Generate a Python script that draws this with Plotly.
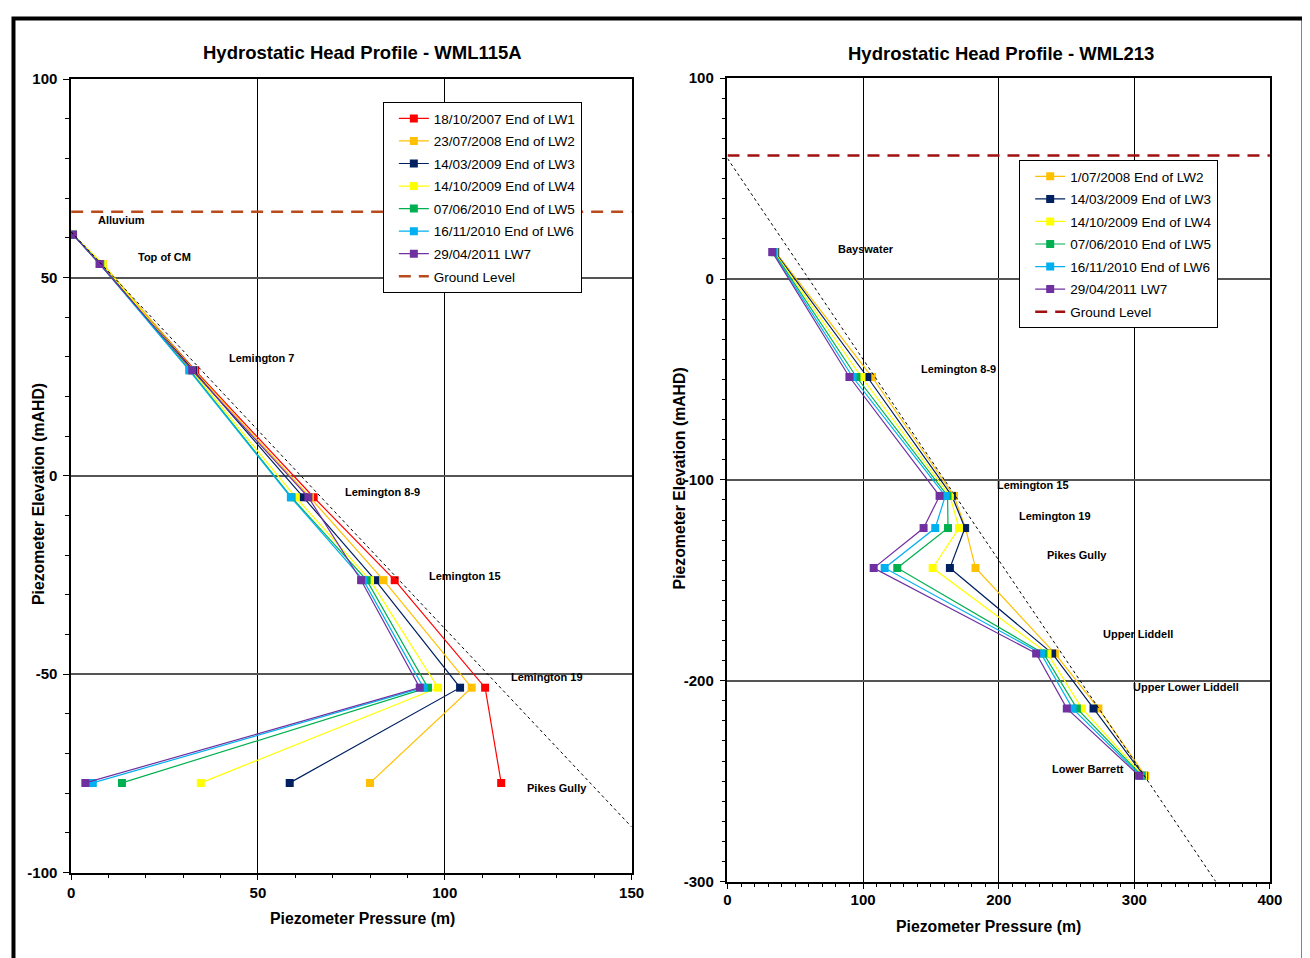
import plotly.graph_objects as go

# ---------------- data: left chart (WML115A) ----------------
left_levels = ["Alluvium", "Top of CM", "Lemington 7", "Lemington 8-9",
               "Lemington 15", "Lemington 19", "Pikes Gully"]
left_elev = [60.8, 53.4, 26.6, -5.4, -26.3, -53.4, -77.4]

left_names = ["18/10/2007 End of LW1", "23/07/2008 End of LW2", "14/03/2009 End of LW3",
              "14/10/2009 End of LW4", "07/06/2010 End of LW5", "16/11/2010 End of LW6",
              "29/04/2011 LW7"]
left_lw1 = [0.5, 8.0, 33.2, 64.9, 86.6, 110.8, 115.1]
left_lw2 = [0.5, 8.5, 32.9, 63.9, 83.6, 107.2, 80.0]
left_lw3 = [0.5, 7.8, 32.7, 62.2, 81.4, 104.1, 58.5]
left_lw4 = [0.5, 8.4, 32.2, 60.1, 80.0, 98.2, 34.7]
left_lw5 = [0.5, 7.8, 31.8, 59.0, 79.1, 95.5, 13.6]
left_lw6 = [0.5, 7.7, 31.6, 58.8, 78.2, 94.3, 5.8]
left_lw7 = [0.5, 7.6, 32.4, 63.5, 77.6, 93.3, 3.8]
left_ground = 66.6
left_hydro_x = [0, 150]
left_hydro_y = [61.5, -88.5]

left_label_x = [13.6, 24.9, 51.0, 83.2, 105.3, 127.3, 130.0]
left_label_y = [64.5, 55.2, 29.7, -4.0, -25.2, -50.6, -78.8]

left_xticks = [0, 50, 100, 150]
left_xticktext = ["0", "50", "100", "150"]
left_yticks = [-100, -50, 0, 50, 100]
left_yticktext = ["-100", "-50", "0", "50", "100"]

# ---------------- data: right chart (WML213) ----------------
right_levels = ["Bayswater", "Lemington 8-9", "Lemington 15", "Lemington 19",
                "Pikes Gully", "Upper Liddell", "Upper Lower Liddell", "Lower Barrett"]
right_elev = [13.4, -48.8, -108.0, -124.0, -143.9, -186.4, -213.8, -247.3]

right_names = ["1/07/2008 End of LW2", "14/03/2009 End of LW3", "14/10/2009 End of LW4",
               "07/06/2010 End of LW5", "16/11/2010 End of LW6", "29/04/2011 LW7"]
right_lw2 = [35.5, 106.6, 167.0, 175.5, 182.9, 241.4, 273.5, 308.0]
right_lw3 = [35.0, 103.1, 165.5, 175.1, 164.0, 239.4, 269.9, 307.0]
right_lw4 = [34.5, 98.8, 164.0, 170.7, 151.3, 236.0, 261.3, 306.5]
right_lw5 = [34.0, 95.1, 162.3, 162.6, 125.2, 233.0, 257.6, 305.5]
right_lw6 = [33.5, 92.3, 160.6, 153.2, 115.9, 231.1, 254.4, 304.5]
right_lw7 = [33.0, 89.9, 156.4, 144.6, 107.8, 227.6, 250.2, 303.5]
right_ground = 61.5
right_hydro_x = [0, 360]
right_hydro_y = [60, -300]

right_label_x = [102.4, 170.2, 225.4, 241.6, 257.8, 302.8, 338.0, 266.0]
right_label_y = [14.9, -44.8, -102.5, -117.9, -137.3, -176.6, -203.0, -243.8]

right_xticks = [0, 100, 200, 300, 400]
right_xticktext = ["0", "100", "200", "300", "400"]
right_yticks = [-300, -200, -100, 0, 100]
right_yticktext = ["-300", "-200", "-100", "0", "100"]

left_colors = ["#FF0000", "#FFC000", "#002060", "#FFFF00", "#00B050", "#00B0F0", "#7030A0"]
right_colors = ["#FFC000", "#002060", "#FFFF00", "#00B050", "#00B0F0", "#7030A0"]

FONT = "Liberation Sans"

# page geometry (figure sits inside the page body; map target screen px to paper fractions)
W, H = 1310, 958
AX, BX = 0.988, 10.8
AY, BY = 0.983, 15.8


def fx(px):
    return ((px - BX) / AX) / W


def fy(py):
    return 1 - ((py - BY) / AY) / H


fig = go.Figure()

for i, (name, xs, col) in enumerate(zip(left_names,
                                         [left_lw1, left_lw2, left_lw3, left_lw4, left_lw5, left_lw6, left_lw7],
                                         left_colors)):
    fig.add_trace(go.Scatter(x=xs, y=left_elev, mode="lines+markers", name=name,
                             line=dict(color=col, width=1.2),
                             marker=dict(symbol="square", size=8, color=col),
                             xaxis="x", yaxis="y", legend="legend", legendgroup="L%d" % i))
fig.add_trace(go.Scatter(x=left_hydro_x, y=left_hydro_y, mode="lines", showlegend=False,
                         line=dict(color="black", width=1, dash="dot"), xaxis="x", yaxis="y"))
fig.add_trace(go.Scatter(x=[0, 150], y=[left_ground, left_ground], mode="lines", name="Ground Level",
                         line=dict(color="#B84A1B", width=2.5, dash="12px,8px"),
                         xaxis="x", yaxis="y", legend="legend", legendgroup="Lg"))

for i, (name, xs, col) in enumerate(zip(right_names,
                                         [right_lw2, right_lw3, right_lw4, right_lw5, right_lw6, right_lw7],
                                         right_colors)):
    fig.add_trace(go.Scatter(x=xs, y=right_elev, mode="lines+markers", name=name,
                             line=dict(color=col, width=1.2),
                             marker=dict(symbol="square", size=8, color=col),
                             xaxis="x2", yaxis="y2", legend="legend2", legendgroup="R%d" % i))
fig.add_trace(go.Scatter(x=right_hydro_x, y=right_hydro_y, mode="lines", showlegend=False,
                         line=dict(color="black", width=1, dash="dot"), xaxis="x2", yaxis="y2"))
fig.add_trace(go.Scatter(x=[0, 400], y=[right_ground, right_ground], mode="lines", name="Ground Level",
                         line=dict(color="#A01010", width=2.5, dash="12px,8px"),
                         xaxis="x2", yaxis="y2", legend="legend2", legendgroup="Rg"))

tickfont = dict(family=FONT, size=15, color="black", weight="bold")


def axis(domain, rng, tickvals, ticktext, minor, anchor, gridcolor="black", gridwidth=1, standoff=3):
    return dict(domain=domain, range=rng, tickmode="array", tickvals=tickvals, ticktext=ticktext,
                anchor=anchor, showgrid=True, gridcolor=gridcolor, gridwidth=gridwidth,
                showline=True, linecolor="black", linewidth=1.5, mirror=True,
                ticks="outside", ticklen=6, tickcolor="black", tickwidth=1,
                minor=dict(dtick=minor, tick0=0, ticks="outside", ticklen=4, tickcolor="black", showgrid=False),
                zeroline=False, tickfont=tickfont, ticklabelstandoff=standoff)


annotations = []
labfont = dict(family=FONT, size=11, color="black", weight="bold")
for t, x, y in zip(left_levels, left_label_x, left_label_y):
    annotations.append(dict(text=t, x=x, y=y, xref="x", yref="y", showarrow=False,
                            xanchor="center", yanchor="middle", font=labfont))
for t, x, y in zip(right_levels, right_label_x, right_label_y):
    annotations.append(dict(text=t, x=x, y=y, xref="x2", yref="y2", showarrow=False,
                            xanchor="center", yanchor="middle", font=labfont))

titlefont = dict(family=FONT, size=18.5, color="black", weight="bold")
axtitlefont = dict(family=FONT, size=15.8, color="black", weight="bold")


def pann(text, px, py, font, angle=0):
    return dict(text=text, x=fx(px), y=fy(py), xref="paper", yref="paper", showarrow=False,
                xanchor="center", yanchor="middle", textangle=angle, font=font)


annotations += [
    pann("Hydrostatic Head Profile - WML115A", 362, 51, titlefont),
    pann("Hydrostatic Head Profile - WML213", 1001, 52, titlefont),
    pann("Piezometer Pressure (m)", 362, 918, axtitlefont),
    pann("Piezometer Pressure (m)", 988, 926, axtitlefont),
    pann("Piezometer Elevation (mAHD)", 38, 493, axtitlefont, -90),
    pann("Piezometer Elevation (mAHD)", 679, 478, axtitlefont, -90),
]

legfont = dict(family=FONT, size=13.5, color="black")
fig.update_layout(
    width=W, height=H,
    margin=dict(l=0, r=0, t=0, b=0),
    paper_bgcolor="white", plot_bgcolor="white",
    xaxis=axis([fx(70), fx(631)], [0, 150], left_xticks, left_xticktext, 10, "y", standoff=0),
    yaxis=axis([fy(872), fy(78)], [-100, 100], left_yticks, left_yticktext, 10, "x", "#555555", 1.5),
    xaxis2=axis([fx(727), fx(1270)], [0, 400], right_xticks, right_xticktext, 10, "y2", standoff=-2),
    yaxis2=axis([fy(881), fy(77)], [-300, 100], right_yticks, right_yticktext, 10, "x2", "#555555", 1.5),
    legend=dict(x=fx(382), y=fy(101), xanchor="left", yanchor="top",
                bordercolor="black", borderwidth=1, bgcolor="white", font=legfont,
                tracegroupgap=2, itemwidth=30, indentation=10),
    legend2=dict(x=fx(1019), y=fy(159), xanchor="left", yanchor="top",
                 bordercolor="black", borderwidth=1, bgcolor="white", font=legfont,
                 tracegroupgap=2, itemwidth=30, indentation=10),
    annotations=annotations,
    shapes=[dict(type="rect", xref="paper", yref="paper", x0=1.5 / W, x1=1 - 1.5 / W,
                 y0=-0.02, y1=1 - 1.5 / H, line=dict(color="black", width=4))],
    showlegend=True,
)

fig.write_html("out.html")
